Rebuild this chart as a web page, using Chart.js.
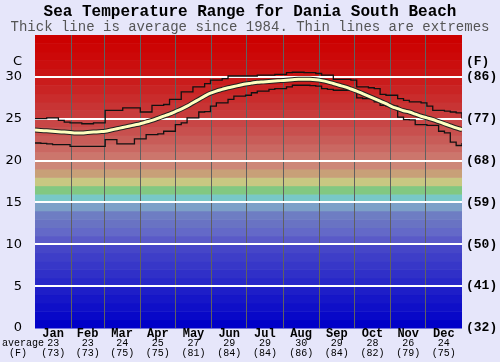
<!DOCTYPE html>
<html>
<head>
<meta charset="utf-8">
<script src="https://cdn.jsdelivr.net/npm/chart.js@4"></script>
<style>
  html, body { margin: 0; padding: 0; background: #e6e6fa; }
  canvas { display: block; }
</style>
</head>
<body>
<canvas id="seaChart" width="500" height="362"></canvas>
<script>
// Sea temperature, Dania South Beach (deg C), sampled every 5 days
const days = [0, 5, 10, 15, 20, 25, 30, 35, 40, 45, 50, 55, 60, 65, 70, 75, 80, 85, 90, 95,
  100, 105, 110, 115, 120, 125, 130, 135, 140, 145, 150, 155, 160, 165, 170, 175, 180, 185, 190, 195,
  200, 205, 210, 215, 220, 225, 230, 235, 240, 245, 250, 255, 260, 265, 270, 275, 280, 285, 290, 295,
  300, 305, 310, 315, 320, 325, 330, 335, 340, 345, 350, 355, 360, 365];

const avgTemp = [23.65, 23.6, 23.55, 23.5, 23.45, 23.4, 23.35, 23.3, 23.3, 23.35, 23.4, 23.45, 23.5, 23.65, 23.8, 23.95, 24.1, 24.25, 24.4, 24.6,
  24.8, 25.05, 25.3, 25.55, 25.85, 26.15, 26.5, 26.9, 27.3, 27.7, 28.05, 28.3, 28.5, 28.7, 28.85, 29.0, 29.15, 29.25, 29.35, 29.4,
  29.45, 29.5, 29.55, 29.6, 29.65, 29.7, 29.7, 29.7, 29.65, 29.55, 29.4, 29.2, 29.0, 28.8, 28.55, 28.3, 28.0, 27.7, 27.4, 27.1,
  26.8, 26.45, 26.2, 25.95, 25.8, 25.55, 25.3, 25.1, 24.9, 24.65, 24.4, 24.15, 23.9, 23.7];

const maxTemp = [25.0, 25.0, 25.1, 25.1, 24.8, 24.6, 24.5, 24.5, 24.4, 24.4, 24.5, 24.5, 26.0, 26.0, 26.0, 26.3, 26.3, 26.3, 25.8, 25.8,
  26.6, 26.6, 26.7, 27.3, 27.3, 28.2, 28.2, 28.8, 28.8, 29.2, 29.6, 29.6, 29.8, 30.1, 30.1, 30.1, 30.1, 30.1, 30.2, 30.2,
  30.2, 30.3, 30.3, 30.5, 30.55, 30.55, 30.5, 30.5, 30.4, 30.2, 30.2, 29.7, 29.7, 29.7, 29.6, 28.8, 28.8, 28.7, 28.6, 27.9,
  27.8, 27.8, 27.4, 27.2, 27.0, 27.0, 26.9, 26.5, 26.0, 26.0, 25.9, 25.8, 25.7, 25.0];

const minTemp = [22.1, 22.05, 22.0, 21.9, 21.9, 21.9, 21.7, 21.7, 21.7, 21.7, 21.7, 21.7, 22.5, 22.5, 22.0, 22.0, 22.0, 22.6, 22.6, 23.1,
  23.1, 23.2, 23.5, 23.5, 24.3, 24.5, 25.1, 25.1, 25.8, 25.85, 26.5, 26.9, 26.9, 27.3, 27.7, 27.7, 27.8, 28.1, 28.3, 28.3,
  28.5, 28.6, 28.6, 28.8, 29.0, 29.0, 29.0, 28.95, 28.9, 28.6, 28.5, 28.4, 28.4, 28.4, 28.4, 27.5, 27.4, 27.4, 27.0, 26.6,
  26.5, 26.5, 25.2, 24.9, 24.85, 24.3, 24.3, 24.2, 24.2, 23.5, 23.3, 22.2, 21.8, 22.1];

const months = ['Jan', 'Feb', 'Mar', 'Apr', 'May', 'Jun', 'Jul', 'Aug', 'Sep', 'Oct', 'Nov', 'Dec'];
const monthStart = [0, 31, 59, 90, 120, 151, 181, 212, 243, 273, 304, 334, 365];
const monthAvgC = [23, 23, 24, 25, 27, 29, 29, 30, 29, 28, 26, 24];
const monthAvgF = [73, 73, 75, 75, 81, 84, 84, 86, 84, 82, 79, 75];

// colour of each 1 degree band, from 0-1 C upwards
const bandColors = [
  'rgb(0,0,200)', 'rgb(8,8,200)', 'rgb(15,15,200)', 'rgb(22,22,200)', 'rgb(30,30,200)',
  'rgb(40,40,200)', 'rgb(48,48,200)', 'rgb(55,55,200)', 'rgb(62,62,200)', 'rgb(70,70,200)',
  'rgb(90,90,200)', 'rgb(100,105,200)', 'rgb(105,115,195)', 'rgb(110,125,195)', 'rgb(125,160,200)',
  'rgb(120,200,200)', 'rgb(130,200,130)', 'rgb(200,200,130)', 'rgb(200,160,120)', 'rgb(205,135,120)',
  'rgb(204,118,108)', 'rgb(202,104,98)', 'rgb(200,92,88)', 'rgb(200,80,78)', 'rgb(200,70,70)',
  'rgb(200,60,60)', 'rgb(200,52,52)', 'rgb(201,44,44)', 'rgb(201,36,36)', 'rgb(202,28,28)',
  'rgb(202,20,20)', 'rgb(203,14,14)', 'rgb(204,8,8)', 'rgb(204,4,4)', 'rgb(204,0,0)'
];

const toPoints = vals => days.map((d, i) => ({ x: d, y: vals[i] }));

const mono = '"Liberation Mono", "Courier New", monospace';

const bandPlugin = {
  id: 'bands',
  beforeDraw(chart) {
    const { ctx, chartArea: a, scales: { y } } = chart;
    ctx.save();
    bandColors.forEach((c, i) => {
      const top = y.getPixelForValue(i + 1);
      const bot = y.getPixelForValue(i);
      ctx.fillStyle = c;
      ctx.fillRect(a.left, top, a.right - a.left, bot - top + 0.5);
    });
    ctx.restore();
  }
};

const textPlugin = {
  id: 'texts',
  afterDraw(chart) {
    const { ctx, scales: { x } } = chart;
    ctx.save();
    ctx.textAlign = 'center';
    ctx.textBaseline = 'middle';
    ctx.fillStyle = '#000';
    ctx.font = 'bold 16px ' + mono;
    ctx.fillText('Sea Temperature Range for Dania South Beach', 250, 12);
    ctx.fillStyle = '#555';
    ctx.font = '14px ' + mono;
    ctx.fillText('Thick line is average since 1984. Thin lines are extremes', 250, 27);

    ctx.fillStyle = '#000';
    months.forEach((m, i) => {
      const cx = x.getPixelForValue((monthStart[i] + monthStart[i + 1]) / 2);
      ctx.font = 'bold 12px ' + mono;
      ctx.fillText(m, cx, 334);
      ctx.font = '10px ' + mono;
      ctx.fillText(String(monthAvgC[i]), cx, 343);
      ctx.fillText('(' + monthAvgF[i] + ')', cx, 353);
    });
    ctx.textAlign = 'left';
    ctx.fillText('average', 2, 343);
    ctx.fillText('(F)', 9, 353);

    ctx.font = '13px "DejaVu Sans", sans-serif';
    ctx.textAlign = 'right';
    ctx.fillText('C', 22, 62);
    ctx.font = 'bold 13px ' + mono;
    ctx.textAlign = 'left';
    ctx.fillText('(F)', 466, 62);
    ctx.restore();
  }
};

function createChart() {
  const ctx = document.getElementById('seaChart').getContext('2d');

  new Chart(ctx, {
    type: 'line',
    data: {
      datasets: [
        {
          label: 'Average',
          data: toPoints(avgTemp),
          borderColor: '#ffffc0',
          borderWidth: 3,
          tension: 0.4,
          pointRadius: 0,
        },
        {
          label: 'Average outline',
          data: toPoints(avgTemp),
          borderColor: '#222',
          borderWidth: 5,
          tension: 0.4,
          pointRadius: 0,
        },
        {
          label: 'Max',
          data: toPoints(maxTemp),
          borderColor: '#111',
          borderWidth: 1.3,
          stepped: true,
          pointRadius: 0,
        },
        {
          label: 'Min',
          data: toPoints(minTemp),
          borderColor: '#111',
          borderWidth: 1.3,
          stepped: true,
          pointRadius: 0,
        },
      ],
    },
    options: {
      responsive: false,
      animation: false,
      layout: { padding: { top: 35 } },
      plugins: {
        legend: { display: false },
        tooltip: { enabled: false },
      },
      scales: {
        x: {
          type: 'linear',
          min: 0,
          max: 365,
          afterBuildTicks: s => { s.ticks = monthStart.map(v => ({ value: v })); },
          afterFit: s => { s.height = 34; },
          ticks: { display: false },
          border: { display: false },
          grid: {
            drawTicks: false,
            color: c => (c.tick && (c.tick.value === 0 || c.tick.value === 365)) ? 'rgba(0,0,0,0)' : '#606060',
            lineWidth: 1,
          },
        },
        y: {
          min: 0,
          max: 35,
          afterFit: s => { s.width = 35; },
          border: { display: false },
          ticks: {
            stepSize: 5,
            padding: 13,
            color: '#000',
            font: { family: '"DejaVu Sans", sans-serif', size: 13 },
            callback: v => (v === 35 ? null : v),
          },
          grid: {
            drawTicks: false,
            color: c => (c.tick && (c.tick.value === 0 || c.tick.value === 35)) ? 'rgba(0,0,0,0)' : '#ffffff',
            lineWidth: 2,
          },
        },
        yF: {
          position: 'right',
          min: 0,
          max: 35,
          afterFit: s => { s.width = 38; },
          border: { display: false },
          grid: { display: false, drawTicks: false },
          ticks: {
            stepSize: 5,
            padding: 4,
            color: '#000',
            font: { family: '"Liberation Mono", monospace', size: 13, weight: 'bold' },
            callback: v => (v === 35 ? null : '(' + Math.round(v * 9 / 5 + 32) + ')'),
          },
        },
      },
    },
    plugins: [bandPlugin, textPlugin],
  });
}

window.onload = createChart;
</script>
</body>
</html>
